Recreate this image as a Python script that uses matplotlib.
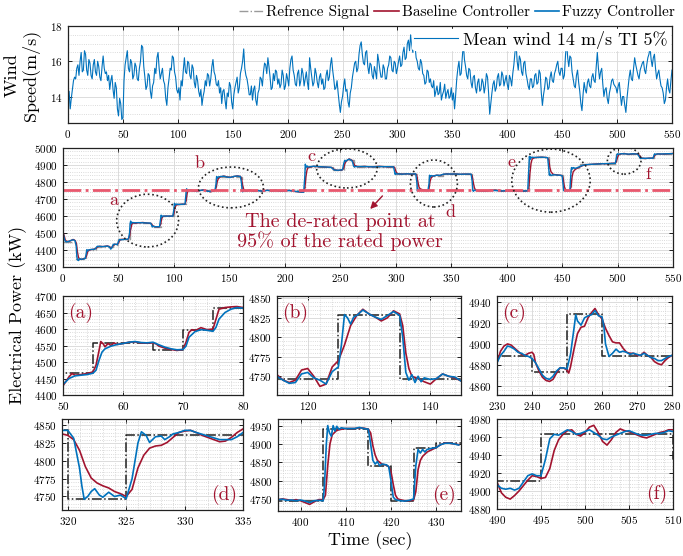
import numpy as np
import matplotlib
matplotlib.use("Agg")
import matplotlib.pyplot as plt
from matplotlib.patches import Ellipse
from matplotlib.lines import Line2D
from matplotlib.ticker import MultipleLocator

plt.rcParams['font.family'] = ['cmr10', 'DejaVu Serif']
plt.rcParams['mathtext.fontset'] = 'cm'
plt.rcParams['axes.formatter.use_mathtext'] = True

# ==========================================
# DATA
# ==========================================
# wind speed, one value per second from 0 s
wind = [14.0, 14.3, 13.3, 13.9, 14.4, 14.9, 15.1, 15.0, 15.6, 15.8, 15.2, 16.0, 16.5, 15.4, 15.5, 16.6, 16.4, 15.5, 15.2, 16.1, 15.9, 15.2, 15.0, 15.8, 16.1,
        15.4, 15.2, 16.0, 15.7, 15.1, 14.9, 15.7, 16.3, 15.6, 15.3, 15.4, 14.9, 15.2, 14.4, 14.9, 15.2, 14.4, 13.9, 14.8, 14.5, 13.3, 12.9, 13.9, 13.6, 12.7,
        12.8, 14.9, 15.8, 16.2, 16.6, 15.6, 15.4, 16.1, 15.9, 15.0, 15.2, 15.9, 15.7, 15.0, 14.9, 15.6, 16.0, 16.9, 16.8, 15.7, 15.1, 14.4, 14.6, 15.3, 15.2,
        14.3, 13.9, 14.6, 14.8, 15.6, 15.3, 16.2, 16.5, 15.6, 15.0, 15.3, 15.6, 14.9, 14.7, 13.9, 13.5, 14.5, 15.0, 15.6, 15.5, 16.3, 16.2, 15.4, 15.1, 14.4,
        14.2, 14.5, 13.8, 14.9, 14.6, 15.5, 16.2, 15.4, 15.3, 16.0, 15.9, 15.2, 15.0, 15.8, 15.6, 14.8, 14.5, 15.2, 14.9, 14.3, 14.0, 14.4, 13.5, 14.0, 14.3,
        14.9, 14.6, 15.3, 15.2, 14.6, 15.0, 15.7, 16.1, 15.4, 15.2, 14.7, 14.6, 14.9, 14.2, 14.5, 13.6, 14.3, 14.4, 13.8, 13.3, 14.2, 14.0, 14.8, 14.6, 13.7,
        13.3, 14.1, 14.5, 14.8, 15.1, 14.2, 14.5, 15.3, 15.6, 16.0, 16.7, 15.6, 15.2, 15.0, 14.6, 14.1, 14.1, 14.6, 13.8, 14.4, 14.6, 13.8, 13.5, 14.2, 14.4,
        15.1, 15.0, 14.6, 15.4, 15.9, 15.8, 15.3, 16.2, 15.7, 15.1, 14.4, 14.5, 15.3, 14.9, 15.5, 15.4, 14.7, 15.0, 14.5, 14.7, 15.5, 15.2, 14.4, 14.6, 15.3,
        15.0, 14.6, 15.6, 16.1, 16.3, 15.5, 15.2, 14.7, 14.6, 15.3, 15.5, 14.6, 14.9, 15.6, 15.3, 14.6, 15.0, 15.4, 14.8, 14.4, 16.2, 15.6, 15.1, 14.6, 14.8,
        15.6, 15.3, 14.8, 14.5, 15.1, 15.3, 14.7, 15.0, 14.4, 14.5, 15.2, 15.5, 14.9, 15.1, 15.8, 16.2, 15.5, 15.0, 14.4, 14.5, 14.9, 14.2, 13.6, 13.1, 13.7,
        14.0, 14.6, 15.0, 14.3, 14.4, 13.7, 13.4, 14.2, 14.5, 15.1, 15.5, 15.9, 16.0, 15.4, 15.6, 16.4, 16.9, 17.1, 16.4, 15.9, 15.8, 16.5, 16.6, 15.7, 15.3,
        15.9, 15.8, 15.2, 15.0, 15.7, 15.4, 15.0, 16.4, 16.0, 15.5, 15.1, 15.1, 15.8, 15.6, 15.0, 15.0, 15.6, 15.8, 16.3, 16.2, 15.5, 15.4, 16.0, 15.9, 15.3,
        15.6, 16.0, 16.3, 15.7, 15.8, 16.5, 16.8, 16.1, 16.2, 17.0, 17.2, 16.6, 17.5, 16.9, 16.5, 17.1, 16.9, 16.2, 16.0, 15.6, 15.5, 16.1, 15.9, 15.3, 15.2,
        14.7, 14.8, 15.5, 15.4, 14.8, 15.0, 14.6, 14.5, 14.9, 14.0, 14.3, 14.6, 14.1, 14.2, 14.8, 13.8, 14.1, 14.3, 14.7, 13.9, 14.2, 14.4, 13.9, 14.0, 14.5,
        13.8, 14.2, 13.3, 14.1, 15.0, 15.6, 16.0, 15.2, 15.3, 16.2, 17.0, 16.1, 15.7, 15.2, 15.0, 15.6, 15.5, 14.8, 14.5, 15.1, 15.2, 14.5, 14.2, 14.8, 15.0,
        14.3, 14.4, 15.0, 14.8, 14.2, 14.6, 15.3, 15.1, 14.2, 13.0, 13.6, 14.2, 14.7, 14.9, 14.3, 14.5, 15.1, 15.3, 14.6, 14.7, 15.4, 15.2, 14.6, 14.9, 15.2,
        14.7, 14.4, 15.2, 15.0, 14.6, 15.3, 15.8, 16.5, 17.0, 16.0, 15.5, 16.3, 16.1, 15.4, 15.2, 15.9, 16.0, 15.3, 15.0, 14.6, 14.4, 15.0, 15.0, 14.5, 14.6,
        15.2, 15.3, 14.7, 14.8, 15.5, 15.3, 14.2, 13.5, 14.1, 14.5, 15.1, 15.0, 14.4, 14.5, 15.1, 15.4, 14.9, 14.8, 15.3, 15.5, 15.8, 16.0, 15.4, 15.2, 15.6,
        15.6, 15.0, 15.2, 16.3, 17.2, 16.2, 15.7, 16.3, 16.2, 15.4, 15.0, 14.6, 14.5, 15.2, 15.5, 14.8, 14.3, 13.6, 13.2, 14.1, 14.8, 14.4, 14.2, 14.8, 15.0,
        14.6, 14.5, 15.1, 15.3, 14.9, 14.8, 15.7, 16.5, 15.6, 15.0, 15.4, 15.6, 14.7, 14.0, 14.4, 14.5, 13.9, 13.6, 14.2, 14.5, 14.9, 15.0, 14.7, 14.6, 14.5,
        14.2, 14.6, 14.8, 14.1, 13.5, 14.0, 14.0, 13.5, 13.1, 13.9, 14.5, 15.1, 15.5, 15.0, 14.9, 15.6, 16.2, 15.8, 15.5, 15.2, 15.0, 15.5, 15.7, 15.9, 16.0,
        15.5, 15.3, 15.8, 16.2, 16.4, 16.8, 16.1, 15.7, 16.2, 16.4, 15.6, 15.0, 15.3, 15.5, 15.0, 14.6, 14.5, 14.2, 13.6, 13.8, 14.5, 15.0, 14.4, 14.2, 14.9,
        15.5]
wind_t = np.arange(len(wind))

# full-run power: reference steps, baseline and fuzzy responses
main_ref_t = [0, 12, 21, 30, 45, 50, 60, 80, 88, 100, 111, 138, 161, 218, 243, 253, 262, 299, 319, 330,
              343, 369, 420, 438, 451, 458, 466, 480, 499, 520, 533, 550]
main_ref_p = [4450, 4345, 4400, 4420, 4432, 4462, 4560, 4537, 4598, 4668, 4750, 4830, 4750, 4890, 4870, 4930, 4890, 4848, 4750, 4838,
              4847, 4750, 4945, 4840, 4750, 4885, 4903, 4908, 4965, 4940, 4965, 4965]
derated = 4750

main_tb = [0, 1, 2, 3, 5, 7, 9, 10, 11, 12, 13, 14, 15, 17, 19, 20, 21, 22, 23, 25, 28, 29, 30, 31, 33, 36, 40, 42, 43, 44,
           45, 46, 48, 49, 50, 51, 52, 55, 58, 59, 60, 61, 62, 63, 65, 68, 72, 76, 79, 80, 81, 83, 86, 87,
           88, 89, 90, 93, 96, 99, 100, 101, 102, 105, 108, 110, 111, 112, 113, 115, 118, 121, 124, 127, 130, 133, 136, 137,
           138, 139, 140, 142, 145, 148, 151, 154, 157, 160, 161, 162, 163, 165, 168, 172, 176, 180, 184, 188, 192, 196, 200, 204, 208, 212, 215, 217,
           218, 219, 220, 221, 223, 226, 230, 234, 238, 242, 243, 245, 248, 251, 252, 253, 254, 255, 257, 258, 260, 261,
           262, 263, 265, 268, 272, 276, 280, 285, 290, 295, 298, 299, 300, 301, 303, 306, 310, 314, 318,
           319, 320, 321, 322, 324, 327, 329, 330, 331, 332, 334, 337, 340, 343, 346, 350, 354, 358, 362, 366, 368,
           369, 370, 371, 372, 375, 380, 385, 390, 395, 400, 405, 410, 415, 419, 420, 421, 422, 423, 425, 428, 432, 436, 437,
           438, 439, 440, 442, 445, 448, 450, 451, 452, 453, 455, 457,
           458, 459, 460, 462, 465, 468, 471, 475, 480, 485, 490, 495, 498, 499, 500, 501, 503, 506, 510, 514, 518,
           520, 521, 522, 525, 528, 532, 533, 534, 536, 540, 545, 550]
main_base = [4505, 4485, 4460, 4452, 4450, 4455, 4462, 4460, 4455, 4440, 4390, 4355, 4347, 4345, 4350, 4352, 4360, 4385, 4398, 4402, 4405, 4408, 4410, 4418, 4422, 4420, 4424, 4420, 4412, 4415,
             4425, 4432, 4434, 4432, 4440, 4455, 4462, 4463, 4462, 4465, 4480, 4520, 4550, 4560, 4557, 4560, 4562, 4558, 4557, 4552, 4542, 4537, 4536, 4538,
             4550, 4585, 4597, 4600, 4598, 4600, 4615, 4650, 4665, 4668, 4670, 4668, 4690, 4735, 4750, 4752, 4748, 4745, 4750, 4755, 4748, 4742, 4748, 4752,
             4765, 4800, 4820, 4830, 4835, 4830, 4828, 4832, 4836, 4833, 4820, 4780, 4755, 4748, 4752, 4747, 4750, 4745, 4752, 4748, 4750, 4746, 4749, 4751, 4745, 4742, 4740, 4742,
             4760, 4830, 4870, 4885, 4888, 4892, 4890, 4889, 4887, 4886, 4882, 4872, 4868, 4870, 4872, 4880, 4905, 4920, 4930, 4936, 4930, 4925,
             4910, 4898, 4892, 4890, 4892, 4889, 4890, 4892, 4890, 4889, 4890, 4885, 4865, 4852, 4848, 4847, 4848, 4846, 4847,
             4840, 4800, 4770, 4760, 4755, 4752, 4750, 4760, 4805, 4825, 4836, 4840, 4838, 4845, 4848, 4846, 4848, 4845, 4847, 4846, 4845,
             4835, 4795, 4765, 4752, 4748, 4745, 4750, 4753, 4746, 4748, 4750, 4747, 4745, 4748, 4760, 4850, 4910, 4935, 4943, 4945, 4946, 4944, 4942,
             4930, 4885, 4860, 4845, 4842, 4840, 4838, 4820, 4775, 4755, 4750, 4750,
             4770, 4830, 4860, 4875, 4885, 4895, 4902, 4903, 4906, 4908, 4907, 4910, 4911, 4920, 4945, 4960, 4965, 4968, 4962, 4966, 4965,
             4955, 4945, 4940, 4938, 4940, 4941, 4950, 4960, 4965, 4964, 4966, 4968]
main_tf = [0, 1, 2, 3, 5, 7, 9, 10, 11, 12, 12.5, 13, 14, 15, 16, 18, 20, 21, 21.5, 22, 23, 25, 28, 29, 30, 31, 33, 36, 40, 42, 43, 44,
           45, 46, 48, 49, 50, 51, 52, 55, 58, 59, 60, 60.5, 61, 61.5, 62, 65, 68, 72, 76, 79, 80, 80.5, 81, 83, 86, 87,
           88, 88.5, 89, 90, 93, 96, 99, 100, 100.5, 101, 102, 105, 108, 110, 111, 111.5, 112, 113, 115, 118, 121, 124, 127, 130, 133, 136, 137,
           138, 138.5, 139, 140, 142, 145, 148, 151, 154, 157, 160, 161, 161.5, 162, 163, 165, 168, 172, 176, 180, 184, 188, 192, 196, 200, 204, 208, 212, 215, 217,
           218, 218.5, 219, 220, 221, 223, 226, 230, 234, 238, 242, 243, 245, 248, 251, 252, 253, 254, 255, 257, 258, 260, 261,
           262, 263, 264, 265, 268, 272, 276, 280, 285, 290, 295, 298, 299, 299.5, 300, 301, 303, 306, 310, 314, 318,
           319, 319.5, 320, 321, 322, 324, 327, 329, 330, 330.5, 331, 332, 334, 337, 340, 343, 346, 350, 354, 358, 362, 366, 368,
           369, 369.5, 370, 371, 375, 380, 385, 390, 395, 400, 405, 410, 415, 419, 420, 420.5, 421, 421.5, 422, 423, 425, 428, 432, 436, 437,
           438, 438.5, 439, 440, 442, 445, 448, 450, 451, 451.5, 452, 455, 457,
           458, 458.5, 459, 460, 462, 465, 468, 471, 475, 480, 485, 490, 495, 498, 499, 499.5, 500, 501, 503, 506, 510, 514, 518,
           520, 520.5, 521, 525, 528, 532, 533, 533.5, 534, 536, 540, 545, 550]
main_fuzzy = [4505, 4470, 4452, 4448, 4450, 4456, 4460, 4458, 4452, 4420, 4360, 4342, 4338, 4350, 4345, 4347, 4350, 4380, 4402, 4395, 4400, 4403, 4404, 4406, 4415, 4422, 4421, 4420, 4423, 4418, 4405, 4412,
              4430, 4435, 4433, 4431, 4450, 4462, 4460, 4462, 4463, 4466, 4500, 4555, 4570, 4555, 4562, 4560, 4561, 4560, 4559, 4558, 4545, 4535, 4540, 4537, 4537, 4537,
              4580, 4605, 4595, 4600, 4599, 4600, 4599, 4640, 4675, 4662, 4670, 4668, 4669, 4670, 4740, 4760, 4748, 4752, 4750, 4747, 4744, 4751, 4753, 4746, 4744, 4749, 4750,
              4790, 4832, 4822, 4830, 4832, 4834, 4829, 4827, 4833, 4835, 4832, 4790, 4750, 4742, 4752, 4747, 4751, 4748, 4749, 4746, 4751, 4749, 4750, 4747, 4748, 4750, 4746, 4743, 4741, 4740,
              4830, 4905, 4885, 4895, 4888, 4890, 4893, 4891, 4889, 4888, 4886, 4878, 4870, 4869, 4871, 4872, 4905, 4928, 4922, 4932, 4934, 4928, 4920,
              4893, 4888, 4893, 4890, 4891, 4891, 4890, 4889, 4891, 4890, 4890, 4889, 4860, 4845, 4852, 4847, 4848, 4846, 4848, 4847, 4848,
              4800, 4748, 4760, 4750, 4755, 4751, 4750, 4749, 4790, 4840, 4828, 4838, 4835, 4840, 4839, 4846, 4847, 4847, 4847, 4846, 4846, 4847, 4846,
              4800, 4752, 4745, 4752, 4749, 4746, 4751, 4750, 4747, 4749, 4749, 4746, 4747, 4748, 4880, 4950, 4932, 4948, 4940, 4946, 4944, 4945, 4946, 4944, 4943,
              4870, 4840, 4848, 4838, 4843, 4841, 4840, 4837, 4780, 4750, 4748, 4749, 4750,
              4860, 4885, 4875, 4885, 4880, 4888, 4897, 4901, 4904, 4905, 4907, 4908, 4909, 4910, 4945, 4962, 4966, 4963, 4966, 4966, 4964, 4966, 4964,
              4945, 4938, 4940, 4939, 4940, 4940, 4960, 4966, 4962, 4965, 4965, 4966, 4967]

# zoomed panels: reference steps on their own time axes
zoom_ref_t = [45, 50, 55, 65, 70, 75, 85, 110, 125, 135, 220, 240, 250, 260, 300, 320, 325, 370, 405, 415, 420, 425, 430, 490, 495, 510, 520]
zoom_ref_p = [4430, 4468, 4558, 4535, 4598, 4665, 4668, 4747, 4828, 4747, 4888, 4873, 4929, 4888, 4843, 4747, 4836, 4745, 4942, 4840, 4745, 4888, 4903, 4911, 4963, 4936, 4936]

# zoom window (a)
a_tb = [50, 51, 51.5, 52, 53, 54, 55, 55.5, 56, 56.3, 56.7, 57, 57.5, 58, 58.5, 59, 60, 61, 62, 63, 64, 65, 65.5, 66, 67, 68, 69, 70, 70.5, 71, 71.5, 72, 73, 74, 75, 75.5, 76, 77, 78, 79, 80]
a_base = [4428, 4455, 4465, 4460, 4462, 4465, 4470, 4490, 4534, 4562, 4555, 4546, 4556, 4550, 4558, 4553, 4556, 4560, 4561, 4558, 4557, 4558, 4555, 4548, 4542, 4538, 4535, 4538, 4560, 4590, 4598, 4595, 4604, 4598, 4600, 4630, 4660, 4665, 4667, 4668, 4665]
a_tf = [50, 51, 52, 53, 54, 55, 55.5, 56, 56.5, 57, 58, 59, 60, 61, 62, 63, 64, 65, 66, 67, 68, 69, 70, 70.5, 71, 72, 73, 74, 75, 75.5, 76, 77, 78, 79, 80]
a_fuzzy = [4432, 4450, 4458, 4460, 4462, 4466, 4475, 4505, 4530, 4540, 4548, 4553, 4556, 4560, 4562, 4559, 4558, 4560, 4552, 4545, 4540, 4537, 4538, 4548, 4575, 4592, 4598, 4596, 4593, 4605, 4630, 4650, 4660, 4665, 4663]

# zoom window (b)
b_tb = [115, 116, 117, 118, 119, 120, 121, 122, 123, 124, 125, 126, 127, 128, 129, 130, 131, 132, 133, 134, 135, 135.5, 136, 136.5, 137, 138, 139, 140, 141, 142, 143, 144, 145]
b_base = [4752, 4745, 4742, 4745, 4758, 4760, 4750, 4737, 4740, 4762, 4770, 4790, 4815, 4828, 4836, 4830, 4826, 4821, 4825, 4834, 4830, 4815, 4780, 4760, 4750, 4747, 4743, 4740, 4747, 4753, 4750, 4748, 4744]
b_tf = [115, 116, 117, 118, 119, 120, 121, 122, 123, 124, 125, 125.5, 126, 126.5, 127, 127.5, 128, 129, 130, 131, 132, 133, 134, 135, 135.5, 136, 136.5, 137, 137.5, 138, 138.5, 139, 140, 141, 142, 143, 144, 145]
b_fuzzy = [4750, 4745, 4741, 4742, 4753, 4755, 4748, 4745, 4740, 4756, 4762, 4790, 4829, 4825, 4817, 4826, 4828, 4835, 4830, 4826, 4823, 4828, 4833, 4828, 4800, 4755, 4745, 4752, 4742, 4750, 4743, 4748, 4746, 4747, 4753, 4750, 4749, 4744]

# zoom window (c)
c_tb = [230, 231, 232, 233, 234, 235, 236, 237, 238, 239, 240, 240.5, 241, 242, 243, 244, 245, 246, 247, 248, 249, 250, 250.5,
        251, 252, 253, 254, 255, 256, 257, 258, 259, 260, 261, 262, 263, 264, 265, 266, 267, 268, 269, 270,
        271, 272, 273, 274, 275, 276, 277, 278, 279, 280]
c_base = [4882, 4893, 4898, 4900, 4899, 4896, 4893, 4890, 4889, 4891, 4892, 4890, 4882, 4874, 4868, 4865, 4864, 4866, 4872, 4877, 4877, 4875, 4872,
          4878, 4895, 4910, 4916, 4917, 4925, 4930, 4934, 4928, 4924, 4915, 4908, 4902, 4901, 4901, 4896, 4892, 4891, 4891, 4889,
          4889, 4892, 4889, 4887, 4883, 4881, 4880, 4884, 4887, 4889]
c_tf = [230, 231, 232, 233, 234, 235, 236, 237, 238, 239, 240, 241, 242, 243, 244, 245, 246, 247, 248, 249, 250, 251, 252, 252.5,
        253, 254, 255, 256, 257, 258, 259, 260, 260.5, 261, 262, 263, 264, 265, 266, 267, 268, 269, 270,
        271, 272, 273, 274, 275, 276, 277, 278, 279, 280]
c_fuzzy = [4882, 4889, 4893, 4898, 4897, 4895, 4892, 4891, 4889, 4888, 4886, 4882, 4876, 4870, 4867, 4866, 4869, 4874, 4877, 4877, 4876, 4890, 4915, 4928,
           4922, 4918, 4925, 4927, 4928, 4932, 4927, 4926, 4918, 4900, 4888, 4891, 4895, 4892, 4893, 4892, 4890, 4891, 4890,
           4889, 4891, 4889, 4887, 4886, 4884, 4884, 4886, 4888, 4889]

# zoom window (d)
d_tb = [319.5, 320, 320.5, 321, 321.5, 322, 322.5, 323, 323.5, 324, 324.5, 325, 325.5, 326, 326.5, 327, 327.5, 328, 328.5, 329, 329.5, 330, 330.5, 331, 331.5, 332, 332.5, 333, 333.5, 334, 334.5, 335]
d_base = [4838, 4836, 4830, 4815, 4792, 4776, 4769, 4765, 4762, 4757, 4754, 4750, 4760, 4790, 4808, 4818, 4821, 4822, 4826, 4833, 4840, 4842, 4843, 4840, 4836, 4833, 4830, 4827, 4828, 4833, 4840, 4845]
d_tf = [319.5, 320, 320.5, 321, 321.2, 321.4, 321.7, 322, 322.3, 322.7, 323, 323.5, 324, 324.5, 325, 325.5, 326, 326.3, 326.7, 327, 327.5, 328, 328.3, 328.7, 329, 329.5, 330, 330.5, 331, 332, 333, 334, 334.5, 335]
d_fuzzy = [4843, 4843, 4832, 4790, 4765, 4746, 4750, 4757, 4761, 4752, 4749, 4756, 4750, 4752, 4747, 4775, 4825, 4841, 4836, 4826, 4834, 4835, 4830, 4834, 4838, 4840, 4843, 4843, 4840, 4835, 4830, 4830, 4834, 4840]

# zoom window (e)
e_tb = [395, 396, 397, 398, 399, 400, 401, 402, 403, 404, 405, 405.5, 406, 406.5, 407, 408, 409, 410, 412, 413, 414, 415, 415.5, 416, 416.5,
        417, 418, 419, 419.5, 420, 420.5, 421, 421.5, 422, 423, 424, 425, 425.5, 426, 426.5, 427, 428, 429, 430, 431, 432, 433, 434, 435]
e_base = [4748, 4750, 4748, 4746, 4748, 4745, 4740, 4735, 4742, 4748, 4748, 4760, 4840, 4900, 4925, 4937, 4940, 4942, 4942, 4944, 4943, 4940, 4930, 4895, 4870,
          4855, 4845, 4842, 4838, 4825, 4790, 4760, 4750, 4748, 4745, 4745, 4747, 4770, 4830, 4855, 4866, 4878, 4884, 4890, 4898, 4903, 4902, 4900, 4898]
e_tf = [395, 396, 397, 398, 399, 400, 401, 402, 403, 404, 405, 405.3, 405.7, 406, 406.4, 406.8, 407.2, 407.6, 408, 408.5, 409, 410, 412, 413, 414, 415, 415.5,
        416, 416.5, 417, 417.5, 418, 419, 419.5, 420, 420.5, 421, 422, 423, 424, 425, 425.5, 426, 426.5, 427, 427.5, 428, 429, 430, 431, 432, 433, 434, 435]
e_fuzzy = [4748, 4749, 4746, 4747, 4745, 4747, 4744, 4740, 4745, 4746, 4745, 4790, 4900, 4950, 4930, 4921, 4950, 4935, 4948, 4940, 4944, 4942, 4942, 4945, 4942, 4940, 4900,
           4855, 4845, 4852, 4840, 4845, 4843, 4838, 4800, 4755, 4748, 4745, 4744, 4746, 4750, 4840, 4885, 4875, 4885, 4878, 4885, 4888, 4890, 4898, 4902, 4902, 4900, 4897]

# zoom window (f)
f_t = [490, 490.5, 491, 491.5, 492, 492.5, 493, 493.5, 494, 494.5, 495, 495.5, 496, 496.5, 497, 497.5, 498, 498.5, 499, 499.5, 500,
       500.5, 501, 501.5, 502, 502.5, 503, 503.5, 504, 504.5, 505, 505.5, 506, 506.5, 507, 507.5, 508, 508.5, 509, 509.5, 510]
f_base = [4910, 4898, 4893, 4891, 4895, 4900, 4906, 4912, 4917, 4916, 4914, 4915, 4925, 4945, 4957, 4963, 4967, 4968, 4963, 4961, 4965,
          4971, 4973, 4965, 4955, 4951, 4957, 4965, 4969, 4967, 4966, 4964, 4962, 4960, 4959, 4961, 4963, 4965, 4966, 4968, 4968]
f_fuzzy = [4907, 4903, 4902, 4903, 4901, 4903, 4910, 4917, 4919, 4917, 4917, 4935, 4958, 4963, 4962, 4965, 4968, 4966, 4963, 4964, 4966,
           4968, 4965, 4962, 4958, 4957, 4960, 4962, 4964, 4966, 4967, 4965, 4963, 4962, 4962, 4963, 4964, 4964, 4965, 4967, 4966]

# ==========================================
# COLOURS / HELPERS
# ==========================================
c_base_col = '#A2142F'
c_fuzzy_col = '#0072BD'
c_ref_main = '#9a9a9a'
c_ref_zoom = '#222222'
c_derate = '#E8586E'

W, H = 683.0, 556.0


def px_axes(fig, left, top, right, bottom):
    return fig.add_axes([left / W, 1 - bottom / H, (right - left) / W, (bottom - top) / H])


def style(ax, fs=8):
    ax.tick_params(direction='in', which='both', top=True, right=True, labelsize=fs, length=3, width=0.6)
    ax.tick_params(which='minor', length=0)
    for s in ax.spines.values():
        s.set_linewidth(0.9)
        s.set_color('#222222')
    ax.grid(True, which='major', color='#dcdcdc', linewidth=0.7)
    ax.grid(True, which='minor', color='#cfcfcf', linestyle=':', linewidth=0.6)
    ax.set_axisbelow(True)


fig = plt.figure(figsize=(6.83, 5.56), dpi=100)

# ==========================================
# 1. WIND SPEED
# ==========================================
ax_w = px_axes(fig, 68, 26, 672, 123)
style(ax_w, fs=8)
ax_w.plot(wind_t, wind, color=c_fuzzy_col, linewidth=0.8, label='Mean wind 14 m/s TI 5%')
ax_w.set_xlim(0, 550)
ax_w.set_ylim(12.5, 18)
ax_w.xaxis.set_major_locator(MultipleLocator(50))
ax_w.yaxis.set_major_locator(MultipleLocator(2))
ax_w.yaxis.set_minor_locator(MultipleLocator(0.5))
ax_w.grid(False, which='minor', axis='x')
ax_w.legend(loc='upper right', fontsize=13, frameon=True, framealpha=1, edgecolor='white',
            handlelength=2.4, handletextpad=0.3, borderpad=0.1, borderaxespad=0.15)
fig.text(22 / W, 1 - 75 / H, 'Wind\nSpeed(m/s)', rotation=90, ha='center', va='center', fontsize=13, linespacing=1.1)

# top legend
handles = [Line2D([], [], color=c_ref_main, linestyle='-.', linewidth=1.0),
           Line2D([], [], color=c_base_col, linewidth=1.2),
           Line2D([], [], color=c_fuzzy_col, linewidth=1.2)]
fig.legend(handles, ['Refrence Signal', 'Baseline Controller', 'Fuzzy Controller'], ncol=3,
           loc='center right', bbox_to_anchor=(681 / W, 1 - 12 / H), frameon=False, fontsize=11,
           handlelength=1.6, handletextpad=0.2, columnspacing=0.3, borderaxespad=0.0)

# ==========================================
# 2. FULL POWER TRACE
# ==========================================
ax_p = px_axes(fig, 63, 148, 673, 267)
style(ax_p, fs=8)
ax_p.step(main_ref_t, main_ref_p, where='post', color=c_ref_main, linestyle='-.', linewidth=1.0)
ax_p.plot(main_tb, main_base, color=c_base_col, linewidth=1.0)
ax_p.plot(main_tf, main_fuzzy, color=c_fuzzy_col, linewidth=1.0)
ax_p.axhline(derated, color=c_derate, linestyle='-.', linewidth=2.0)
ax_p.set_xlim(0, 550)
ax_p.set_ylim(4300, 5000)
ax_p.xaxis.set_major_locator(MultipleLocator(50))
ax_p.yaxis.set_major_locator(MultipleLocator(100))
ax_p.yaxis.set_minor_locator(MultipleLocator(20))
ax_p.grid(False, which='minor', axis='x')

# dotted circles around the zoomed regions
circles = [('a', 76.3, 4573, 55.8, 310, 46, 4694),
           ('b', 151.5, 4768, 58.5, 240, 123, 4912),
           ('c', 256, 4880, 54.6, 230, 224, 4953),
           ('d', 334.4, 4791, 42.4, 276, 349.7, 4623),
           ('e', 440, 4808, 70.7, 371, 404.7, 4918),
           ('f', 506, 4926, 30.3, 159, 527.5, 4847)]
for lab, cx, cy, w, h, lx, ly in circles:
    ax_p.add_patch(Ellipse((cx, cy), w, h, fill=False, linestyle=':', linewidth=1.2, edgecolor='#222222', zorder=5))
    ax_p.text(lx, ly, lab, color=c_base_col, fontsize=13, ha='center', va='center')

ax_p.text(250, 4565, 'The de-rated point at', color=c_base_col, fontsize=14.5, ha='center', va='center')
ax_p.text(250, 4453, '95% of the rated power', color=c_base_col, fontsize=14.5, ha='center', va='center')
ax_p.annotate('', xy=(277, 4641), xytext=(288, 4718),
              arrowprops=dict(arrowstyle='-|>', color=c_base_col, lw=1.0, mutation_scale=10, shrinkA=0, shrinkB=0))

# ==========================================
# 3. ZOOM PANELS
# ==========================================
panels = [
    ('(a)', (63, 296, 243, 395), a_tb, a_base, a_tf, a_fuzzy, (50, 80), (4400, 4700), 10, 50, 'ul'),
    ('(b)', (277, 296, 461, 395), b_tb, b_base, b_tf, b_fuzzy, (115, 145), (4726, 4853), 10, 25, 'ul'),
    ('(c)', (497, 296, 672, 395), c_tb, c_base, c_tf, c_fuzzy, (230, 280), (4851, 4946), 10, 20, 'ul'),
    ('(d)', (62, 419, 243, 510), d_tb, d_base, d_tf, d_fuzzy, (319.5, 335), (4731, 4859), 5, 25, 'lr'),
    ('(e)', (278, 419, 461, 511), e_tb, e_base, e_tf, e_fuzzy, (395, 435.5), (4717, 4968), 10, 50, 'lr'),
    ('(f)', (497, 419, 673, 509), f_t, f_base, f_t, f_fuzzy, (490, 510), (4880, 4980), 5, 20, 'lr'),
]
for lab, box, tb, vb, tf, vf, xl, yl, xs, ys, corner in panels:
    ax = px_axes(fig, *box)
    style(ax, fs=8)
    ax.step(zoom_ref_t, zoom_ref_p, where='post', color=c_ref_zoom, linestyle='-.', linewidth=1.1)
    ax.plot(tb, vb, color=c_base_col, linewidth=1.2)
    ax.plot(tf, vf, color=c_fuzzy_col, linewidth=1.2)
    ax.set_xlim(*xl)
    ax.set_ylim(*yl)
    ax.xaxis.set_major_locator(MultipleLocator(xs))
    ax.yaxis.set_major_locator(MultipleLocator(ys))
    ax.xaxis.set_minor_locator(MultipleLocator(xs / 5))
    ax.yaxis.set_minor_locator(MultipleLocator(ys / 5))
    if corner == 'ul':
        ax.text(0.03, 0.93, lab, transform=ax.transAxes, color=c_base_col, fontsize=14, ha='left', va='top')
    else:
        ax.text(0.97, 0.06, lab, transform=ax.transAxes, color=c_base_col, fontsize=14, ha='right', va='bottom')

fig.text(18 / W, 1 - 315 / H, 'Electrical Power (kW)', rotation=90, ha='center', va='center', fontsize=13)
fig.text(370 / W, 1 - 541 / H, 'Time (sec)', ha='center', va='center', fontsize=13)

fig.savefig('out.png', dpi=100)
